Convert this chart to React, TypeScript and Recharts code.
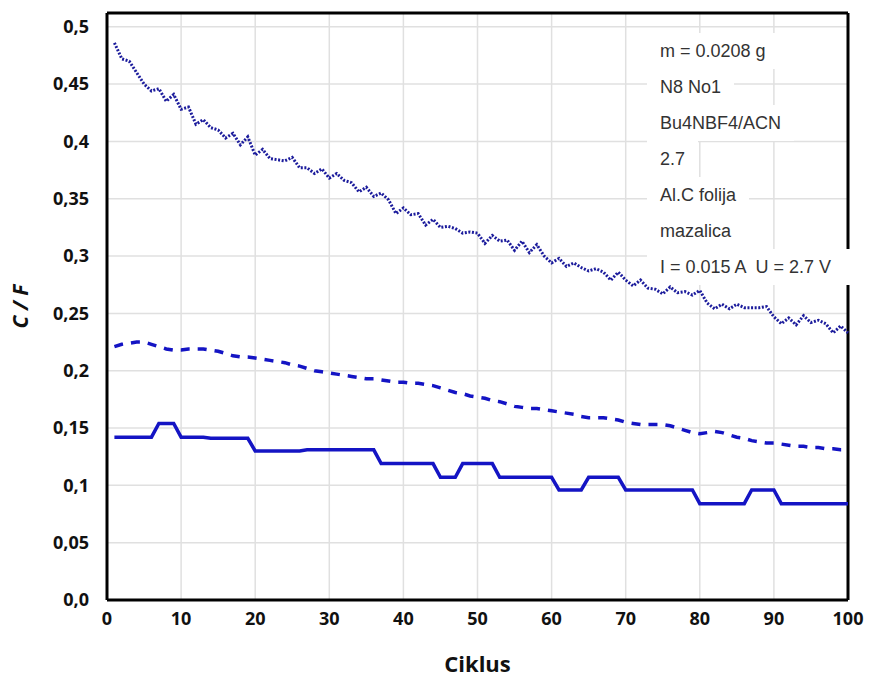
// Capacitance vs cycle chart (C / F over Ciklus)
import React from 'react';
import { LineChart, Line, CartesianGrid, XAxis, YAxis, ReferenceLine } from 'recharts';

const cycles = [
  1, 2, 3, 4, 5, 6, 7, 8, 9, 10, 11, 12, 13, 14, 15, 16, 17, 18, 19, 20,
  21, 22, 23, 24, 25, 26, 27, 28, 29, 30, 31, 32, 33, 34, 35, 36, 37, 38, 39, 40,
  41, 42, 43, 44, 45, 46, 47, 48, 49, 50, 51, 52, 53, 54, 55, 56, 57, 58, 59, 60,
  61, 62, 63, 64, 65, 66, 67, 68, 69, 70, 71, 72, 73, 74, 75, 76, 77, 78, 79, 80,
  81, 82, 83, 84, 85, 86, 87, 88, 89, 90, 91, 92, 93, 94, 95, 96, 97, 98, 99, 100,
];

// dotted series (top)
const dottedValues = [
  0.486, 0.472, 0.47, 0.46, 0.45, 0.444, 0.446, 0.435, 0.441, 0.428,
  0.43, 0.415, 0.419, 0.412, 0.41, 0.403, 0.407, 0.397, 0.404, 0.388,
  0.393, 0.385, 0.384, 0.383, 0.386, 0.377, 0.377, 0.372, 0.376, 0.368,
  0.372, 0.366, 0.364, 0.356, 0.36, 0.352, 0.355, 0.349, 0.337, 0.342,
  0.336, 0.337, 0.327, 0.332, 0.325, 0.326, 0.324, 0.32, 0.321, 0.32,
  0.311, 0.318, 0.313, 0.314, 0.305, 0.313, 0.303, 0.31, 0.3, 0.294,
  0.298, 0.291, 0.294, 0.29, 0.287, 0.289, 0.286, 0.279, 0.286, 0.279,
  0.274, 0.279, 0.272, 0.271, 0.267, 0.273, 0.268, 0.269, 0.266, 0.27,
  0.259, 0.254, 0.258, 0.254, 0.258, 0.255, 0.255, 0.255, 0.256, 0.247,
  0.241, 0.246, 0.24, 0.248, 0.242, 0.244, 0.241, 0.233, 0.239, 0.233,
];

// dashed series (middle)
const dashedValues = [
  0.221, 0.223, 0.224, 0.225, 0.225, 0.223, 0.221, 0.219, 0.218, 0.218,
  0.219, 0.219, 0.219, 0.218, 0.217, 0.215, 0.213, 0.212, 0.212, 0.211,
  0.21, 0.209, 0.208, 0.207, 0.205, 0.204, 0.202, 0.2, 0.199, 0.198,
  0.197, 0.196, 0.195, 0.194, 0.193, 0.193, 0.192, 0.191, 0.19, 0.19,
  0.189, 0.189, 0.188, 0.187, 0.185, 0.183, 0.181, 0.18, 0.178, 0.177,
  0.176, 0.174, 0.173, 0.171, 0.169, 0.168, 0.167, 0.167, 0.166, 0.165,
  0.164, 0.163, 0.162, 0.16, 0.159, 0.159, 0.159, 0.158, 0.157, 0.155,
  0.154, 0.153, 0.153, 0.153, 0.153, 0.152, 0.15, 0.148, 0.146, 0.145,
  0.146, 0.147, 0.146, 0.144, 0.142, 0.141, 0.139, 0.138, 0.137, 0.137,
  0.136, 0.135, 0.134, 0.134, 0.133, 0.133, 0.132, 0.132, 0.131, 0.131,
];

// solid series (bottom, stepped)
const solidValues = [
  0.142, 0.142, 0.142, 0.142, 0.142, 0.142, 0.154, 0.154, 0.154, 0.142,
  0.142, 0.142, 0.142, 0.141, 0.141, 0.141, 0.141, 0.141, 0.141, 0.13,
  0.13, 0.13, 0.13, 0.13, 0.13, 0.13, 0.131, 0.131, 0.131, 0.131,
  0.131, 0.131, 0.131, 0.131, 0.131, 0.131, 0.119, 0.119, 0.119, 0.119,
  0.119, 0.119, 0.119, 0.119, 0.107, 0.107, 0.107, 0.119, 0.119, 0.119,
  0.119, 0.119, 0.107, 0.107, 0.107, 0.107, 0.107, 0.107, 0.107, 0.107,
  0.096, 0.096, 0.096, 0.096, 0.107, 0.107, 0.107, 0.107, 0.107, 0.096,
  0.096, 0.096, 0.096, 0.096, 0.096, 0.096, 0.096, 0.096, 0.096, 0.084,
  0.084, 0.084, 0.084, 0.084, 0.084, 0.084, 0.096, 0.096, 0.096, 0.096,
  0.084, 0.084, 0.084, 0.084, 0.084, 0.084, 0.084, 0.084, 0.084, 0.084,
];

const xTicks = [0, 10, 20, 30, 40, 50, 60, 70, 80, 90, 100];
const yTicks = [0, 0.05, 0.1, 0.15, 0.2, 0.25, 0.3, 0.35, 0.4, 0.45, 0.5];
const yMax = 0.512;

const notes = [
  'm = 0.0208 g',
  'N8 No1',
  'Bu4NBF4/ACN',
  '2.7',
  'Al.C folija',
  'mazalica',
  'I = 0.015 A  U = 2.7 V',
];

const data = cycles.map((c, i) => ({
  cycle: c,
  dotted: dottedValues[i],
  dashed: dashedValues[i],
  solid: solidValues[i],
}));

const tickFont = { fontFamily: 'Open Sans', fontWeight: 700, fontSize: 18, fill: '#111' };
const fmtY = (v: number) => (v === 0 ? '0,0' : String(v).replace('.', ','));

export default function App() {
  return (
    <div style={{ position: 'absolute', left: 0, top: 0, width: 870, height: 677, background: '#fff' }}>
      <LineChart width={870} height={677} data={data} margin={{ top: 13, right: 22, bottom: 0, left: 0 }}>
        <CartesianGrid stroke="#e0e0e0" strokeWidth={1.5} />
        <XAxis
          dataKey="cycle"
          type="number"
          domain={[0, 100]}
          ticks={xTicks}
          height={77}
          tickLine={false}
          tickSize={0}
          tickMargin={12}
          axisLine={{ stroke: '#000', strokeWidth: 3 }}
          tick={tickFont}
          label={{ value: 'Ciklus', position: 'insideBottom', offset: 5, style: { fontFamily: 'Open Sans', fontWeight: 700, fontSize: 22, fill: '#111' } }}
        />
        <YAxis
          type="number"
          domain={[0, yMax]}
          ticks={yTicks}
          width={107}
          tickLine={false}
          tickSize={0}
          tickMargin={18}
          tickFormatter={fmtY}
          axisLine={{ stroke: '#000', strokeWidth: 3 }}
          tick={tickFont}
          label={{ value: 'C / F', angle: -90, position: 'insideLeft', offset: 21, style: { textAnchor: 'middle', fontFamily: 'Open Sans', fontWeight: 700, fontStyle: 'italic', fontSize: 21, fill: '#111' } }}
        />
        {/* frame top and right */}
        <ReferenceLine y={yMax} stroke="#000" strokeWidth={3} />
        <ReferenceLine x={100} stroke="#000" strokeWidth={3} />
        <Line type="linear" dataKey="dotted" stroke="#1c1c9c" strokeWidth={3} strokeDasharray="2 1.6" dot={false} isAnimationActive={false} />
        <Line type="linear" dataKey="dashed" stroke="#1414c4" strokeWidth={3.5} strokeDasharray="9 8" dot={false} isAnimationActive={false} />
        <Line type="linear" dataKey="solid" stroke="#1414c4" strokeWidth={3.5} dot={false} isAnimationActive={false} />
      </LineChart>
      {notes.map((t, i) => (
        <div
          key={t}
          style={{
            position: 'absolute',
            left: 647,
            top: 33 + i * 36,
            height: 36,
            lineHeight: '36px',
            padding: '0 13px',
            boxSizing: 'border-box',
            width: i === notes.length - 1 ? 206 : undefined,
            background: '#fff',
            fontFamily: 'Liberation Sans',
            fontSize: 18,
            color: '#333',
            whiteSpace: 'pre',
          }}
        >
          {t}
        </div>
      ))}
    </div>
  );
}
